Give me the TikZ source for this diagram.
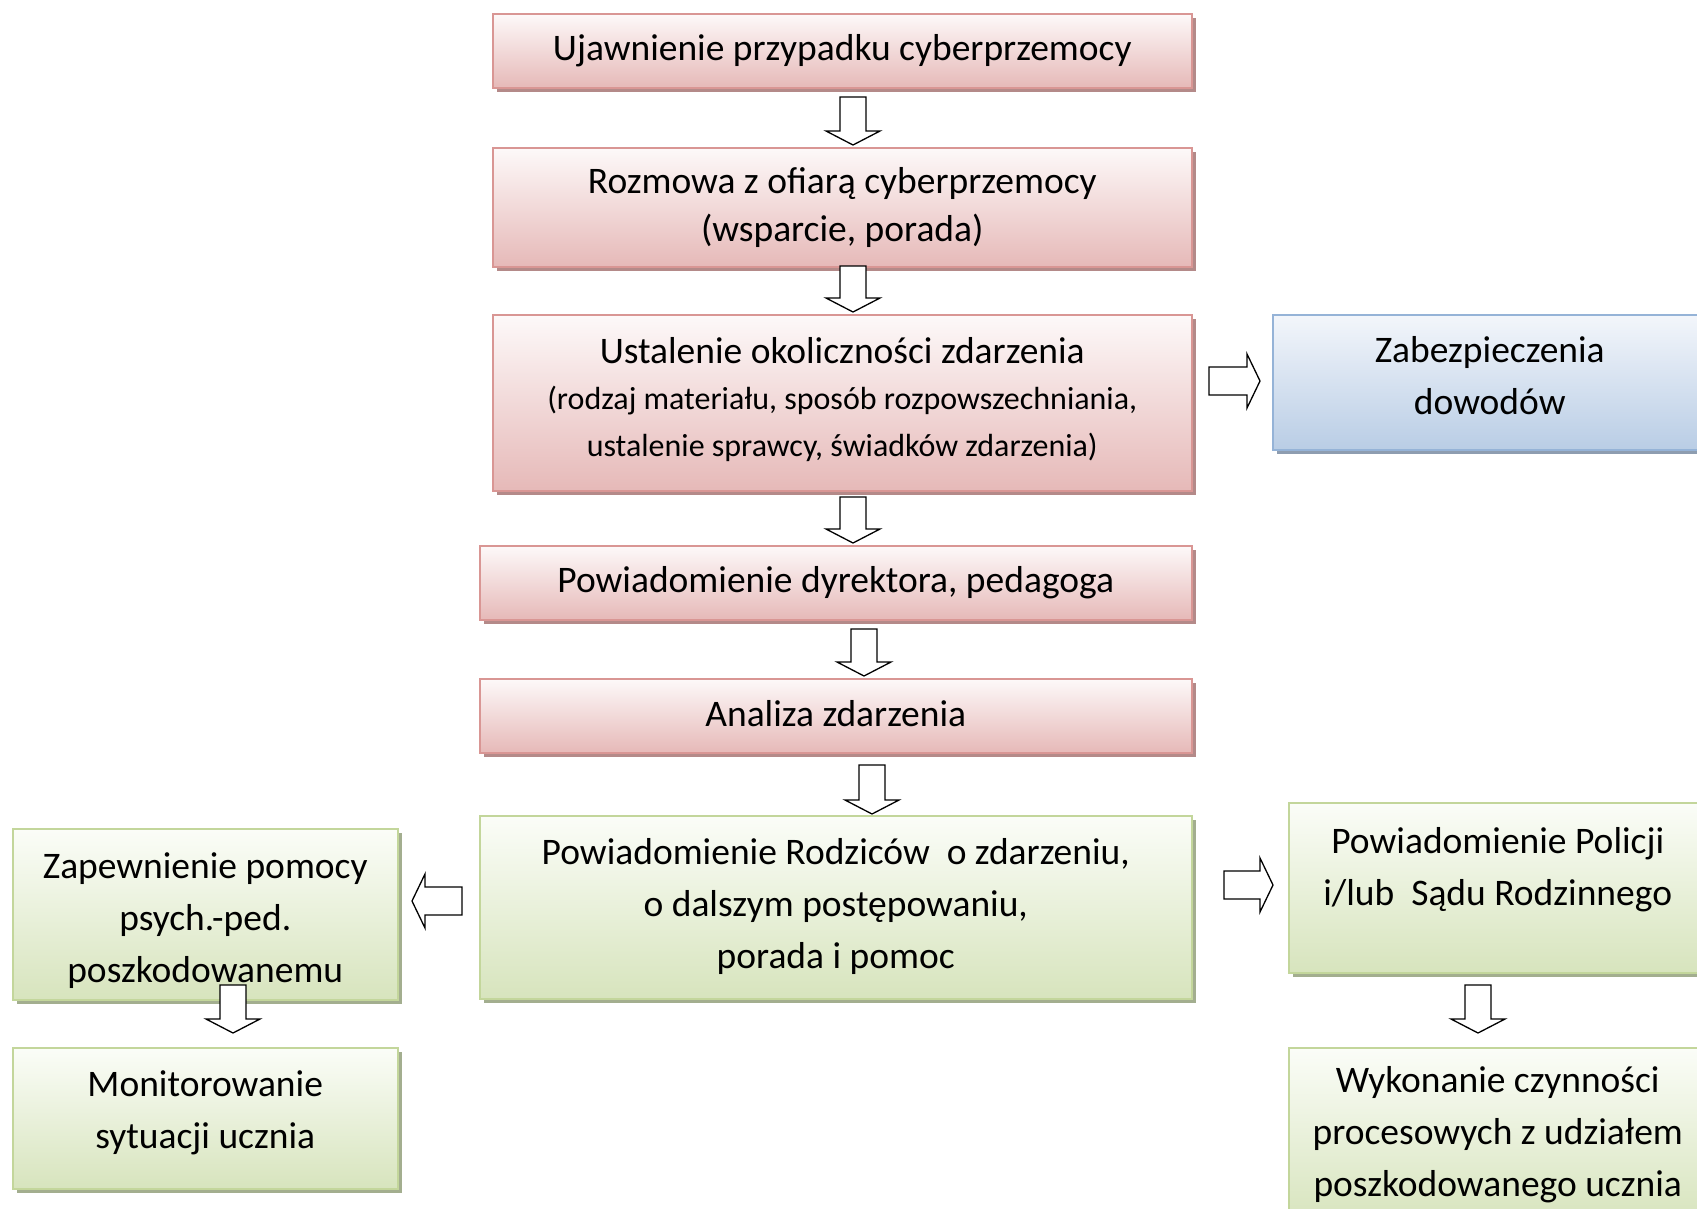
\documentclass[tikz,border=0pt]{standalone}
\usepackage{fontspec}
\setmainfont{Carlito}
\usetikzlibrary{shadows}
\definecolor{pinkline}{HTML}{D99694}
\definecolor{pinkfill}{HTML}{E6B9B8}
\definecolor{pinktop}{HTML}{FDF9F9}
\definecolor{pinkshadow}{HTML}{B48A89}
\definecolor{greenline}{HTML}{C3D69B}
\definecolor{greenfill}{HTML}{D7E4BD}
\definecolor{greentop}{HTML}{FBFDF8}
\definecolor{greenshadow}{HTML}{A3AE8F}
\definecolor{blueline}{HTML}{95B3D7}
\definecolor{bluefill}{HTML}{B9CDE5}
\definecolor{bluetop}{HTML}{F3F6FB}
\definecolor{blueshadow}{HTML}{8E9DB0}
\tikzset{
  box/.style={rectangle, anchor=north west, inner sep=0pt, align=center, line width=1.5pt,
    font=\fontsize{37.5}{52}\selectfont},
  pinkbox/.style={box, draw=pinkline, top color=pinktop, bottom color=pinkfill,
    drop shadow={shadow xshift=4pt, shadow yshift=-4pt, fill=pinkshadow, opacity=1}},
  greenbox/.style={box, draw=greenline, top color=greentop, bottom color=greenfill,
    drop shadow={shadow xshift=4pt, shadow yshift=-4pt, fill=greenshadow, opacity=1}},
  bluebox/.style={box, draw=blueline, top color=bluetop, bottom color=bluefill,
    drop shadow={shadow xshift=4pt, shadow yshift=-4pt, fill=blueshadow, opacity=1}},
  blk/.style={draw=black, fill=white, line width=1.3pt, line join=miter},
}
\newcommand\DownArr[3]{\draw[blk] ({#1-13},#2) -- ({#1+13},#2) -- ({#1+13},{#3-14}) -- ({#1+27},{#3-14}) -- (#1,#3) -- ({#1-27},{#3-14}) -- ({#1-13},{#3-14}) -- cycle;}
\newcommand\RightArr[3]{\draw[blk] (#1,{#3-14}) -- ({#2-13},{#3-14}) -- ({#2-13},{#3-27}) -- (#2,#3) -- ({#2-13},{#3+27}) -- ({#2-13},{#3+14}) -- (#1,{#3+14}) -- cycle;}
\newcommand\LeftArr[3]{\draw[blk] (#1,{#3-14}) -- ({#2+13},{#3-14}) -- ({#2+13},{#3-27}) -- (#2,#3) -- ({#2+13},{#3+27}) -- ({#2+13},{#3+14}) -- (#1,{#3+14}) -- cycle;}
\begin{document}
\begin{tikzpicture}[x=1pt,y=-1pt]
\useasboundingbox (0,0) rectangle (1697,1208);
\clip (0,0) rectangle (1697,1208);
\fill[white] (0,0) rectangle (1697,1208);

\node[pinkbox, minimum width=699pt, minimum height=74pt] (b1) at (492,13) {Ujawnienie przypadku cyberprzemocy};
\node[pinkbox, minimum width=699pt, minimum height=119pt, font=\fontsize{37.5}{47.5}\selectfont] (b2) at (492,147) {Rozmowa z ofiarą cyberprzemocy\\(wsparcie, porada)};
\node[pinkbox, minimum width=699pt, minimum height=176pt, font=\fontsize{32}{46.5}\selectfont] (b3) at (492,314) {{\fontsize{37.5}{46.5}\selectfont Ustalenie okoliczności zdarzenia}\\(rodzaj materiału, sposób rozpowszechniania,\\ustalenie sprawcy, świadków zdarzenia)\\[-34pt]\mbox{}};
\node[bluebox, minimum width=434pt, minimum height=135pt] (zab) at (1272,314) {Zabezpieczenia\\dowodów\\[-38pt]\mbox{}};
\node[pinkbox, minimum width=712pt, minimum height=74pt] (b4) at (479,545) {Powiadomienie dyrektora, pedagoga};
\node[pinkbox, minimum width=712pt, minimum height=74pt] (b5) at (479,678) {Analiza zdarzenia\\[-47pt]\mbox{}};
\node[greenbox, minimum width=712pt, minimum height=183pt] (b6) at (479,815) {Powiadomienie Rodziców\ \ o zdarzeniu,\\o dalszym postępowaniu,\\porada i pomoc\\[-44pt]\mbox{}};
\node[greenbox, minimum width=385pt, minimum height=171pt] (l1) at (12,828) {Zapewnienie pomocy\\psych.-ped.\\poszkodowanemu\\[-58pt]\mbox{}};
\node[greenbox, minimum width=385pt, minimum height=141pt] (l2) at (12,1047) {Monitorowanie\\sytuacji ucznia\\[-34pt]\mbox{}};
\node[greenbox, minimum width=418pt, minimum height=170pt] (r1) at (1288,802) {Powiadomienie Policji\\i/lub\ \ Sądu Rodzinnego\\[-9pt]\mbox{}};
\node[greenbox, minimum width=418pt, minimum height=174pt] (r2) at (1288,1047) {Wykonanie czynności\\procesowych z udziałem\\poszkodowanego ucznia};

\DownArr{853}{97}{145}
\DownArr{853}{266}{312}
\DownArr{853}{497}{543}
\DownArr{864}{629}{676}
\DownArr{872}{765}{814}
\RightArr{1209}{1260}{381}
\RightArr{1224}{1273}{885}
\LeftArr{462}{412}{901}
\DownArr{233}{985}{1033}
\DownArr{1478}{985}{1033}
\end{tikzpicture}
\end{document}
